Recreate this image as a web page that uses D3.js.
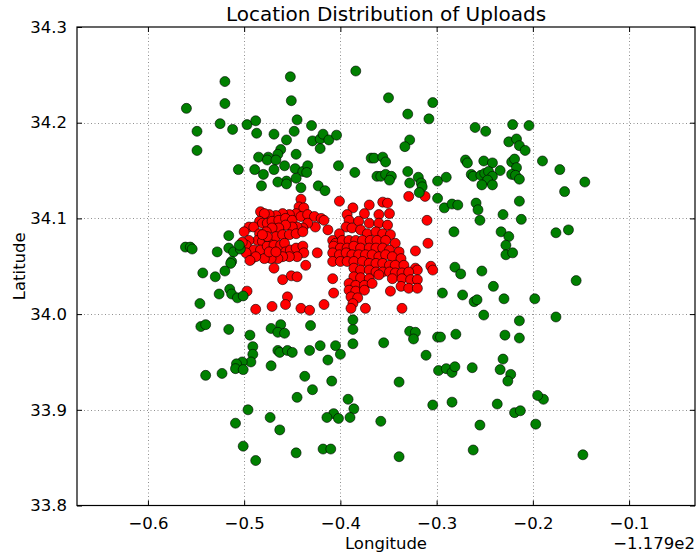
<!DOCTYPE html>
<html>
<head>
<meta charset="utf-8">
<script src="https://cdn.jsdelivr.net/npm/d3@7"></script>
<style>
  body { margin: 0; background: #fff; }
  text { font-family: "DejaVu Sans", sans-serif; fill: #000; }
</style>
</head>
<body>
<svg id="chart"></svg>
<script>
// longitude is shown relative to the axis offset of -117.9
const xTicks = [-0.6, -0.5, -0.4, -0.3, -0.2, -0.1];
const yTicks = [33.8, 33.9, 34.0, 34.1, 34.2, 34.3];
const xOffsetLabel = "\u22121.179e2";

const greenPoints = [
  [-0.560,34.215],[-0.520,34.243],[-0.520,34.220],[-0.525,34.199],[-0.512,34.193],[-0.549,34.191],[-0.549,34.171],
  [-0.497,34.198],[-0.488,34.202],[-0.487,34.189],[-0.469,34.188],[-0.452,34.248],[-0.451,34.223],[-0.445,34.203],
  [-0.448,34.191],[-0.456,34.182],[-0.430,34.197],[-0.429,34.181],[-0.421,34.183],[-0.418,34.188],[-0.412,34.182],
  [-0.404,34.187],[-0.421,34.173],[-0.462,34.172],[-0.465,34.167],[-0.475,34.164],[-0.485,34.164],[-0.476,34.161],
  [-0.467,34.161],[-0.446,34.167],[-0.506,34.151],[-0.489,34.151],[-0.480,34.146],[-0.469,34.151],[-0.458,34.155],
  [-0.447,34.152],[-0.439,34.149],[-0.434,34.155],[-0.435,34.148],[-0.446,34.142],[-0.456,34.139],[-0.465,34.138],
  [-0.456,34.136],[-0.482,34.134],[-0.441,34.132],[-0.423,34.134],[-0.416,34.129],[-0.402,34.155],[-0.385,34.148],
  [-0.384,34.254],[-0.368,34.163],
  [-0.350,34.226],[-0.304,34.221],[-0.330,34.209],[-0.308,34.204],[-0.260,34.195],[-0.249,34.191],[-0.221,34.198],
  [-0.204,34.197],[-0.225,34.180],[-0.217,34.183],[-0.214,34.176],[-0.208,34.171],[-0.328,34.182],[-0.333,34.175],
  [-0.365,34.163],[-0.356,34.164],[-0.353,34.159],[-0.362,34.144],[-0.358,34.144],[-0.353,34.146],[-0.347,34.144],
  [-0.349,34.140],[-0.330,34.149],[-0.319,34.143],[-0.328,34.137],[-0.316,34.137],[-0.315,34.133],[-0.318,34.127],
  [-0.299,34.139],[-0.290,34.143],[-0.299,34.121],[-0.292,34.111],[-0.284,34.115],[-0.278,34.114],[-0.270,34.161],
  [-0.268,34.158],[-0.251,34.160],[-0.242,34.158],[-0.234,34.150],[-0.264,34.146],[-0.262,34.144],[-0.254,34.145],
  [-0.250,34.147],[-0.246,34.149],[-0.242,34.144],[-0.247,34.140],[-0.253,34.135],[-0.242,34.135],[-0.222,34.159],
  [-0.219,34.162],[-0.217,34.153],[-0.222,34.146],[-0.218,34.145],[-0.214,34.141],[-0.190,34.160],[-0.172,34.151],
  [-0.146,34.138],[-0.167,34.128],[-0.214,34.118],[-0.259,34.116],[-0.257,34.109],[-0.231,34.104],[-0.212,34.099],
  [-0.255,34.098],
  [-0.155,34.035],[-0.148,33.853],[-0.561,34.070],[-0.556,34.070],[-0.554,34.068],[-0.528,34.065],[-0.516,34.082],
  [-0.516,34.069],[-0.511,34.065],[-0.504,34.068],[-0.505,34.072],[-0.513,34.055],[-0.514,34.053],[-0.543,34.043],
  [-0.530,34.039],[-0.520,34.045],[-0.515,34.026],[-0.513,34.021],[-0.507,34.017],[-0.501,34.019],[-0.526,34.021],
  [-0.546,34.011],[-0.545,33.987],[-0.540,33.989],[-0.516,33.984],[-0.472,33.985],[-0.462,33.989],[-0.431,33.988],
  [-0.494,33.978],[-0.465,33.981],[-0.458,33.980],[-0.491,33.966],[-0.491,33.958],[-0.493,33.950],[-0.502,33.950],
  [-0.508,33.948],[-0.509,33.943],[-0.501,33.942],[-0.540,33.936],[-0.523,33.938],[-0.472,33.946],[-0.465,33.962],
  [-0.463,33.960],[-0.455,33.962],[-0.450,33.960],[-0.432,33.962],[-0.421,33.967],[-0.405,33.967],[-0.400,33.958],
  [-0.413,33.952],[-0.387,33.969],[-0.387,33.984],[-0.387,33.994],[-0.437,33.935],[-0.409,33.930],[-0.429,33.921],
  [-0.445,33.913],[-0.392,33.911],[-0.386,33.901],[-0.390,33.892],[-0.407,33.896],[-0.414,33.892],[-0.402,33.891],
  [-0.496,33.900],[-0.509,33.886],[-0.473,33.892],[-0.463,33.879],[-0.501,33.862],[-0.488,33.847],[-0.446,33.855],
  [-0.418,33.859],[-0.410,33.859],[-0.358,33.888],[-0.339,33.851],[-0.304,33.905],[-0.284,33.908],[-0.255,33.884],
  [-0.262,33.858],[-0.237,33.906],[-0.219,33.897],[-0.213,33.899],[-0.197,33.885],[-0.189,33.911],[-0.282,34.086],
  [-0.233,34.086],[-0.225,34.081],[-0.228,34.072],[-0.228,34.062],[-0.221,34.064],[-0.176,34.085],[-0.163,34.088],
  [-0.281,34.049],[-0.275,34.042],[-0.253,34.045],[-0.241,34.029],[-0.230,34.016],[-0.198,34.016],[-0.294,34.022],
  [-0.273,34.020],[-0.261,34.013],[-0.258,34.015],[-0.251,33.999],[-0.214,33.993],[-0.176,33.997],[-0.328,33.982],
  [-0.322,33.981],[-0.324,33.974],[-0.355,33.970],[-0.299,33.976],[-0.296,33.976],[-0.280,33.979],[-0.229,33.978],
  [-0.214,33.975],[-0.311,33.957],[-0.231,33.953],[-0.298,33.941],[-0.290,33.943],[-0.284,33.939],[-0.281,33.945],
  [-0.263,33.944],[-0.234,33.942],[-0.223,33.937],[-0.226,33.930],[-0.339,33.929],[-0.195,33.915]
];

const redPoints = [
  // western cluster
  [-0.441,34.120],[-0.443,34.112],[-0.438,34.111],[-0.446,34.105],[-0.453,34.104],[-0.460,34.105],[-0.467,34.103],
  [-0.474,34.104],[-0.483,34.107],[-0.479,34.105],[-0.484,34.097],[-0.495,34.091],[-0.500,34.086],[-0.490,34.091],
  [-0.481,34.095],[-0.476,34.095],[-0.471,34.097],[-0.464,34.098],[-0.457,34.100],[-0.450,34.098],[-0.441,34.102],
  [-0.434,34.104],[-0.427,34.102],[-0.420,34.100],[-0.417,34.098],[-0.413,34.088],[-0.426,34.091],[-0.434,34.095],
  [-0.439,34.090],[-0.445,34.091],[-0.450,34.091],[-0.457,34.093],[-0.464,34.090],[-0.471,34.090],[-0.477,34.086],
  [-0.484,34.084],[-0.486,34.077],[-0.481,34.076],[-0.474,34.077],[-0.467,34.081],[-0.460,34.083],[-0.453,34.083],
  [-0.446,34.084],[-0.439,34.086],[-0.495,34.077],[-0.498,34.072],[-0.490,34.067],[-0.483,34.067],[-0.476,34.071],
  [-0.469,34.072],[-0.462,34.072],[-0.458,34.074],[-0.457,34.065],[-0.452,34.067],[-0.446,34.069],[-0.439,34.071],
  [-0.438,34.064],[-0.445,34.060],[-0.453,34.060],[-0.460,34.060],[-0.465,34.058],[-0.472,34.058],[-0.479,34.058],
  [-0.493,34.057],[-0.488,34.060],[-0.469,34.048],[-0.436,34.051],[-0.424,34.064],[-0.460,34.036],[-0.451,34.040],
  [-0.445,34.039],[-0.497,34.024],[-0.455,34.018],[-0.457,34.010],[-0.471,34.008],[-0.488,34.005],[-0.441,34.006],
  [-0.432,34.004],[-0.417,34.010],[-0.474,34.065],[-0.467,34.065],[-0.476,34.081],[-0.481,34.083],[-0.502,34.075],
  [-0.498,34.064],[-0.494,34.056],
  // eastern cluster
  [-0.401,34.118],[-0.387,34.111],[-0.370,34.114],[-0.356,34.117],[-0.351,34.116],[-0.375,34.105],[-0.360,34.104],
  [-0.349,34.105],[-0.393,34.104],[-0.391,34.098],[-0.381,34.097],[-0.370,34.095],[-0.360,34.095],[-0.351,34.093],
  [-0.394,34.091],[-0.388,34.090],[-0.379,34.088],[-0.372,34.084],[-0.363,34.086],[-0.356,34.084],[-0.348,34.083],
  [-0.401,34.084],[-0.408,34.077],[-0.405,34.074],[-0.398,34.077],[-0.391,34.077],[-0.384,34.077],[-0.377,34.077],
  [-0.369,34.077],[-0.362,34.077],[-0.353,34.077],[-0.343,34.074],[-0.407,34.071],[-0.400,34.069],[-0.393,34.069],
  [-0.386,34.071],[-0.379,34.069],[-0.370,34.069],[-0.363,34.069],[-0.356,34.069],[-0.349,34.067],[-0.339,34.065],
  [-0.408,34.064],[-0.401,34.062],[-0.394,34.064],[-0.388,34.062],[-0.381,34.062],[-0.374,34.062],[-0.367,34.062],
  [-0.360,34.060],[-0.353,34.062],[-0.346,34.060],[-0.337,34.058],[-0.408,34.055],[-0.400,34.055],[-0.393,34.055],
  [-0.386,34.055],[-0.377,34.055],[-0.370,34.053],[-0.363,34.053],[-0.356,34.053],[-0.349,34.051],[-0.343,34.051],
  [-0.334,34.051],[-0.322,34.048],[-0.320,34.046],[-0.386,34.048],[-0.379,34.046],[-0.370,34.046],[-0.363,34.044],
  [-0.356,34.044],[-0.349,34.044],[-0.343,34.043],[-0.336,34.043],[-0.329,34.044],[-0.386,34.039],[-0.379,34.038],
  [-0.370,34.037],[-0.360,34.041],[-0.346,34.037],[-0.336,34.037],[-0.327,34.036],[-0.320,34.036],[-0.391,34.032],
  [-0.384,34.030],[-0.375,34.030],[-0.367,34.032],[-0.337,34.029],[-0.329,34.027],[-0.320,34.027],[-0.391,34.025],
  [-0.384,34.024],[-0.375,34.025],[-0.389,34.018],[-0.382,34.017],[-0.387,34.011],[-0.389,34.006],[-0.374,34.006],
  [-0.348,34.024],[-0.336,34.006],[-0.408,34.037],[-0.407,34.022],[-0.310,34.098],[-0.309,34.074],[-0.322,34.066],
  [-0.329,34.123],[-0.312,34.123],[-0.306,34.050],[-0.304,34.046]
];

const width = 699, height = 554;
const margin = { left: 77, right: 4, top: 27, bottom: 48.5 };

const svg = d3.select("#chart")
  .attr("width", width)
  .attr("height", height);

const x = d3.scaleLinear([-0.6737, -0.0315], [margin.left, width - margin.right]);
const y = d3.scaleLinear([33.8, 34.3], [height - margin.bottom, margin.top]);

const fmtX = d3.format(".1f");
const fmtY = d3.format(".1f");

// dotted grid
const grid = svg.append("g")
  .attr("stroke", "#000")
  .attr("stroke-width", 0.8)
  .attr("stroke-opacity", 0.55)
  .attr("stroke-dasharray", "1,2.5");
grid.selectAll("line.gx").data(xTicks).join("line")
  .attr("x1", d => Math.round(x(d)) + 0.5).attr("x2", d => Math.round(x(d)) + 0.5)
  .attr("y1", y.range()[1]).attr("y2", y.range()[0]);
grid.selectAll("line.gy").data(yTicks.slice(1, -1)).join("line")
  .attr("y1", d => Math.round(y(d)) + 0.5).attr("y2", d => Math.round(y(d)) + 0.5)
  .attr("x1", x.range()[0]).attr("x2", x.range()[1]);

// points
const dots = svg.append("g");
dots.selectAll("circle.red").data(redPoints).join("circle")
  .attr("class", "red")
  .attr("cx", d => x(d[0])).attr("cy", d => y(d[1]))
  .attr("r", 5)
  .attr("fill", "#ff0000")
  .attr("stroke", "#000").attr("stroke-width", 0.6);
dots.selectAll("circle.green").data(greenPoints).join("circle")
  .attr("class", "green")
  .attr("cx", d => x(d[0])).attr("cy", d => y(d[1]))
  .attr("r", 5)
  .attr("fill", "#008000")
  .attr("stroke", "#000").attr("stroke-width", 0.6);

// axes, matplotlib classic: ticks inside on all four sides
const xAxis = d3.axisBottom(x).tickValues(xTicks).tickSizeInner(-5).tickSizeOuter(0).tickPadding(12)
  .tickFormat(d => fmtX(d));
const xTop = d3.axisTop(x).tickValues(xTicks).tickSizeInner(-5).tickSizeOuter(0).tickFormat("");
const yAxis = d3.axisLeft(y).tickValues(yTicks).tickSizeInner(-5).tickSizeOuter(0).tickPadding(10)
  .tickFormat(d => fmtY(d));
const yRight = d3.axisRight(y).tickValues(yTicks).tickSizeInner(-5).tickSizeOuter(0).tickFormat("");

const axes = [
  svg.append("g").attr("transform", `translate(0,${height - margin.bottom})`).call(xAxis),
  svg.append("g").attr("transform", `translate(0,${margin.top})`).call(xTop),
  svg.append("g").attr("transform", `translate(${margin.left},0)`).call(yAxis),
  svg.append("g").attr("transform", `translate(${width - margin.right},0)`).call(yRight)
];
axes.forEach(g => {
  g.select(".domain").remove();
  g.selectAll("line").attr("stroke", "#000").attr("stroke-width", 1);
  g.selectAll("text").attr("font-size", 16.5).attr("font-family", "DejaVu Sans, sans-serif");
});

// frame
svg.append("rect")
  .attr("x", margin.left).attr("y", margin.top)
  .attr("width", width - margin.right - margin.left)
  .attr("height", height - margin.bottom - margin.top)
  .attr("fill", "none").attr("stroke", "#000").attr("stroke-width", 1.2);

svg.append("text")
  .attr("x", (margin.left + width - margin.right) / 2).attr("y", 21)
  .attr("text-anchor", "middle").attr("font-size", 20)
  .text("Location Distribution of Uploads");

svg.append("text")
  .attr("x", (margin.left + width - margin.right) / 2).attr("y", 549)
  .attr("text-anchor", "middle").attr("font-size", 16.5)
  .text("Longitude");

svg.append("text")
  .attr("transform", `translate(25,${(margin.top + height - margin.bottom) / 2}) rotate(-90)`)
  .attr("text-anchor", "middle").attr("font-size", 16.5)
  .text("Latitude");

svg.append("text")
  .attr("x", width - margin.right).attr("y", 549)
  .attr("text-anchor", "end").attr("font-size", 16.5)
  .text(xOffsetLabel);
</script>
</body>
</html>
